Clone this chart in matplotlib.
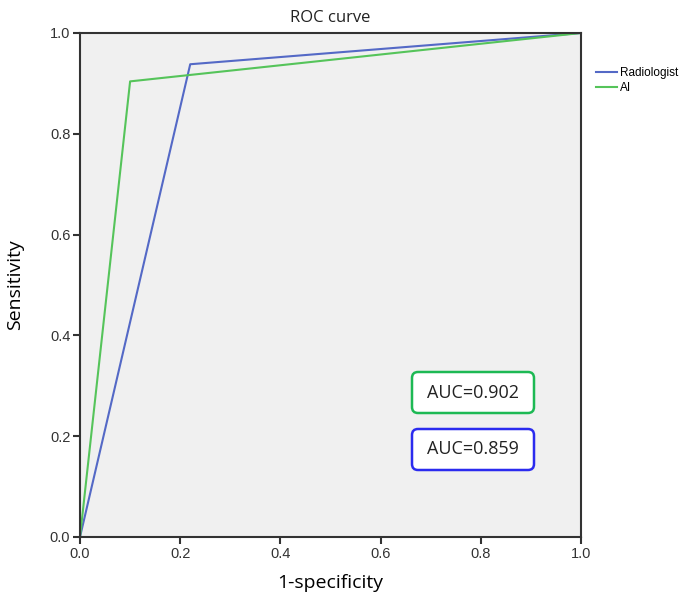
import matplotlib
matplotlib.use("Agg")
import matplotlib.pyplot as plt
from matplotlib.patches import FancyBboxPatch

# ROC points (1-specificity, sensitivity)
radiologist_fpr = [0.0, 0.22, 1.0]
radiologist_tpr = [0.0, 0.938, 1.0]
ai_fpr = [0.0, 0.10, 1.0]
ai_tpr = [0.0, 0.904, 1.0]
auc_labels = ["AUC=0.902", "AUC=0.859"]
ticks = [0.0, 0.2, 0.4, 0.6, 0.8, 1.0]

plt.rcParams['font.family'] = ['Liberation Sans', 'DejaVu Sans']

W, H = 685, 599
L, R, T, B = 80, 581, 33, 537
fig = plt.figure(figsize=(W / 100, H / 100), dpi=100)
ax = fig.add_axes([L / W, 1 - B / H, (R - L) / W, (B - T) / H])
ax.set_facecolor("#f0f0f0")

ax.plot(radiologist_fpr, radiologist_tpr, color="#5469c6", lw=1.5, label="Radiologist")
ax.plot(ai_fpr, ai_tpr, color="#55c45a", lw=1.5, label="AI")

ax.set_xlim(0, 1)
ax.set_ylim(0, 1)
ax.set_xticks(ticks)
ax.set_yticks(ticks)
ax.set_xticklabels([f"{t:.1f}" for t in ticks], fontsize=10.5, color="#333333")
ax.set_yticklabels([f"{t:.1f}" for t in ticks], fontsize=10.5, color="#333333")
ax.tick_params(direction="out", length=5, width=1.5, color="#333333", pad=2)
for s in ax.spines.values():
    s.set_linewidth(1.5)
    s.set_color("#333333")

ax.set_title("ROC curve", fontsize=12, pad=8, color="#222222",
             family=["Open Sans", "DejaVu Sans"])
ax.set_xlabel("1-specificity", fontsize=14, family=["Open Sans", "DejaVu Sans"], va="center")
ax.set_ylabel("Sensitivity", fontsize=14, family=["Open Sans", "DejaVu Sans"], va="center")
ax.xaxis.set_label_coords(0.5, (B - 583) / (B - T))
ax.yaxis.set_label_coords((15 - L) / (R - L), 0.5)

ax.legend(loc="upper left", bbox_to_anchor=((596 - L) / (R - L), (B - 67) / (B - T)),
          frameon=False, fontsize=8.5, handlelength=1.8, handletextpad=0.2,
          labelspacing=0.25, borderpad=0, borderaxespad=0)

# AUC boxes (axes fraction)
box_colors = ["#1db954", "#2b2bef"]
box_cy = [(B - 392.5) / (B - T), (B - 449.5) / (B - T)]
box_cx = (473 - L) / (R - L)
box_w, box_h = 122 / (R - L), 41 / (B - T)
for lab, col, cy in zip(auc_labels, box_colors, box_cy):
    ax.add_patch(FancyBboxPatch((box_cx - box_w / 2, cy - box_h / 2), box_w, box_h,
                                boxstyle="round,pad=0,rounding_size=0.012",
                                transform=ax.transAxes, fc="white", ec=col, lw=1.8, zorder=3))
    ax.text(box_cx, cy, lab, transform=ax.transAxes, fontsize=13, ha="center", va="center",
            family=["Open Sans", "DejaVu Sans"], color="#222222", zorder=4)

fig.savefig("out.png", dpi=100)
